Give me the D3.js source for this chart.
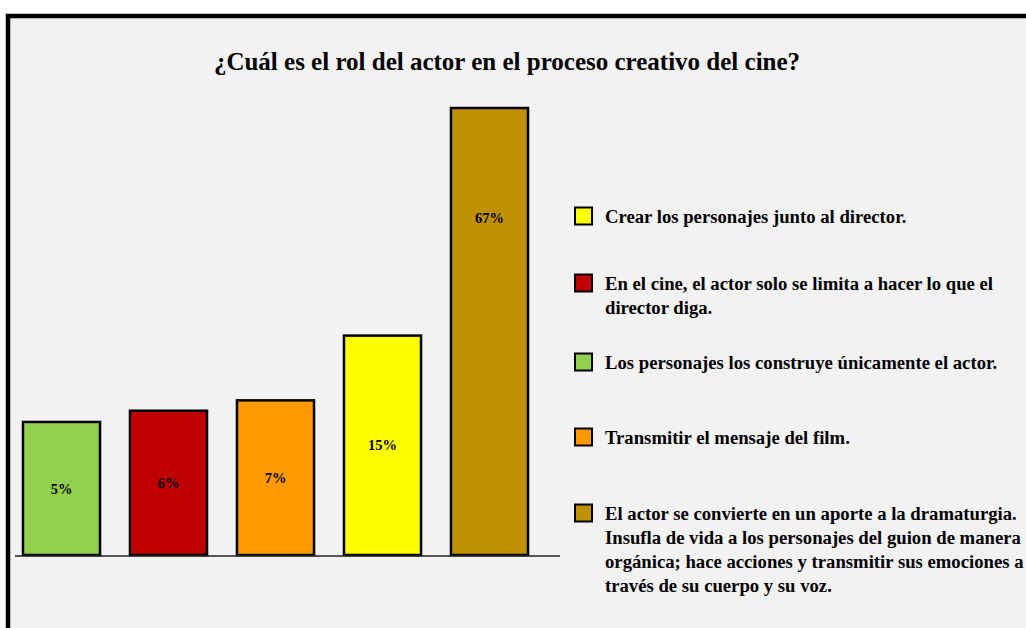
<!DOCTYPE html>
<html>
<head>
<meta charset="utf-8">
<script src="https://cdn.jsdelivr.net/npm/d3@7"></script>
<style>
  html, body { margin: 0; padding: 0; background: #ffffff; }
  svg { display: block; }
</style>
</head>
<body>
<svg id="chart" width="1026" height="628"></svg>
<script>
// ---- data ----
const title = "¿Cuál es el rol del actor en el proceso creativo del cine?";
const categories = ["verde", "rojo", "naranja", "amarillo", "dorado"];
const values = [5, 6, 7, 15, 67];
const valueLabels = ["5%", "6%", "7%", "15%", "67%"];
const barColors = ["#92d050", "#c00000", "#ff9900", "#ffff00", "#bf9000"];
const legendOrder = [3, 1, 0, 2, 4];
const legendTexts = [
  ["Crear los personajes junto al director."],
  ["En el cine, el actor solo se limita a hacer lo que el", "director diga."],
  ["Los personajes los construye únicamente el actor."],
  ["Transmitir el mensaje del film."],
  ["El actor se convierte en un aporte a la dramaturgia.",
   "Insufla de vida a los personajes del guion de manera",
   "orgánica; hace acciones y transmitir sus emociones a",
   "través de su cuerpo y su voz."]
];

const svg = d3.select("#chart");
const font = "'Liberation Serif', 'Times New Roman', serif";

// frame
svg.append("rect").attr("x", 8).attr("y", 16).attr("width", 1040).attr("height", 640)
  .attr("fill", "#f2f2f2").attr("stroke", "#000").attr("stroke-width", 4.5);

// title
svg.append("text").attr("x", 507).attr("y", 70).attr("text-anchor", "middle")
  .attr("font-family", font).attr("font-weight", "bold").attr("font-size", 25)
  .text(title);

// scales
const baseline = 555;
const x = d3.scaleBand().domain(categories).range([8, 543]).paddingInner(0.28).paddingOuter(0.14);
const y = d3.scaleSqrt().domain([0, 67]).range([540, 108]);

// bars
const g = svg.append("g");
g.selectAll("rect.bar").data(values).join("rect")
  .attr("class", "bar")
  .attr("x", (d, i) => x(categories[i]))
  .attr("y", d => y(d))
  .attr("width", x.bandwidth())
  .attr("height", d => baseline - y(d))
  .attr("fill", (d, i) => barColors[i])
  .attr("stroke", "#000").attr("stroke-width", 2.5);

// baseline
svg.append("line").attr("x1", 15).attr("x2", 560).attr("y1", baseline + 1).attr("y2", baseline + 1)
  .attr("stroke", "#222").attr("stroke-width", 1.5);

// value labels
g.selectAll("text.val").data(values).join("text")
  .attr("class", "val")
  .attr("x", (d, i) => x(categories[i]) + x.bandwidth() / 2)
  .attr("y", d => y(d) + Math.min((baseline - y(d)) / 2, 110))
  .attr("dy", "0.35em")
  .attr("text-anchor", "middle")
  .attr("font-family", font).attr("font-weight", "bold").attr("font-size", 14.5)
  .text((d, i) => valueLabels[i]);

// legend
const legendY = [216, 283, 362, 437, 513];
const lg = svg.append("g");
legendOrder.forEach((ci, k) => {
  const item = lg.append("g").attr("transform", `translate(0,${legendY[k]})`);
  item.append("rect").attr("x", 575).attr("y", -8.5).attr("width", 17).attr("height", 17)
    .attr("fill", barColors[ci]).attr("stroke", "#000").attr("stroke-width", 2);
  const t = item.append("text").attr("x", 605).attr("y", 0)
    .attr("font-family", font).attr("font-weight", "bold").attr("font-size", 18.7);
  legendTexts[k].forEach((line, j) => {
    t.append("tspan").attr("x", 605).attr("dy", j === 0 ? "0.35em" : 24).text(line);
  });
});
</script>
</body>
</html>
